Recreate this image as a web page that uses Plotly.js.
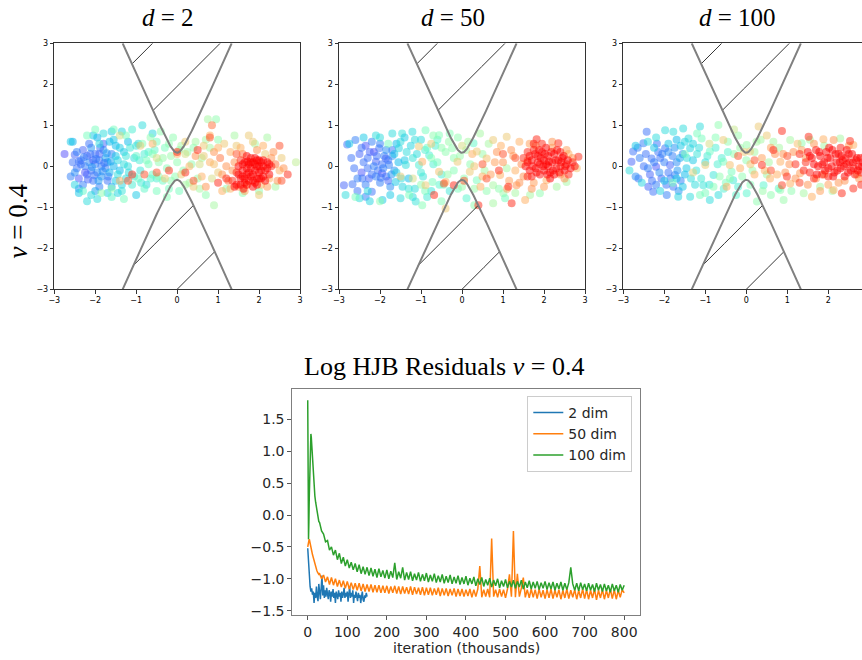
<!DOCTYPE html>
<html>
<head>
<meta charset="utf-8">
<script src="https://cdn.plot.ly/plotly-3.0.1.min.js"></script>
<style>html,body{margin:0;padding:0;background:#fff;} #chart{width:862px;height:660px;}</style>
</head>
<body>
<div id="chart"></div>
<script>
// ---------------- DATA ----------------
// scatter points per panel: [x, y, colour value 0..1]
const d2Points = [
[-2.75,0.3,0.05],[-2.55,0.6,0.2],[-2.5,0.28,0.08],[-2.45,-0.05,0.1],[-2.4,-0.3,0.06],[-2.35,0.15,0.1],[-2.3,-0.45,0.12],[-2.3,0.4,0.08],[-2.25,0.0,0.12],[-2.2,-0.2,0.1],[-2.2,0.25,0.08],[-2.15,0.1,0.13],[-2.1,-0.1,0.1],[-2.1,0.45,0.15],[-2.05,-0.35,0.1],[-2.0,0.05,0.12],[-2.0,0.3,0.1],[-1.95,-0.15,0.14],[-1.95,0.7,0.2],[-1.9,-0.5,0.12],[-1.9,0.15,0.1],[-1.85,0.0,0.12],[-1.85,-0.25,0.15],[-1.8,0.4,0.15],[-1.8,0.55,0.08],[-1.75,-0.05,0.12],[-1.75,0.2,0.18],[-1.7,-0.35,0.1],[-1.7,0.1,0.15],[-1.65,-0.15,0.2],[-1.6,0.3,0.12],[-1.6,-0.5,0.18],[-1.55,0.0,0.2],[-2.4,-0.55,0.15],[-2.6,-0.25,0.12],[-2.0,-0.6,0.18],[-2.15,0.55,0.1],[-1.9,0.3,0.08],[-2.25,-0.15,0.06],[-2.05,0.15,0.07],
[-2.35,0.05,0.1],[-2.28,0.22,0.12],[-2.18,-0.32,0.08],[-2.12,0.3,0.1],[-2.08,-0.02,0.15],[-2.02,-0.22,0.1],[-1.98,0.18,0.12],[-1.92,-0.35,0.16],[-1.88,0.45,0.1],[-1.82,-0.12,0.14],[-1.78,0.08,0.1],[-1.72,0.32,0.16],[-1.68,-0.25,0.12],[-1.62,0.12,0.18],[-2.45,0.35,0.12],[-2.4,0.12,0.1],[-2.5,-0.15,0.14],[-2.55,0.1,0.1],
[-2.6,0.6,0.25],[-2.4,-0.65,0.25],[-2.2,-0.85,0.3],[-2.05,0.75,0.25],[-1.95,-0.8,0.3],[-1.8,0.8,0.3],[-1.7,-0.65,0.28],[-1.6,0.85,0.25],[-1.5,-0.35,0.25],[-1.5,0.5,0.22],[-1.45,0.15,0.28],[-1.4,-0.1,0.22],[-1.35,0.85,0.28],[-1.35,-0.6,0.32],[-1.3,0.35,0.25],[-1.25,-0.3,0.3],[-1.2,0.6,0.22],[-1.2,0.0,0.3],[-1.1,0.9,0.35],[-1.1,-0.45,0.35],[-1.05,0.2,0.3],[-1.0,-0.7,0.25],[-0.95,0.55,0.3],[-0.9,-0.1,0.32],[-0.85,1.0,0.3],[-0.8,0.3,0.35],[-0.75,-0.45,0.3],[-0.6,0.8,0.28],[-0.5,-0.3,0.35],[-1.6,-0.75,0.4],[-2.3,-0.6,0.4],[-2.0,0.9,0.45],[-1.3,-0.8,0.45],
[-1.5,0.25,0.25],[-1.45,-0.2,0.3],[-1.4,0.45,0.26],[-1.35,-0.45,0.28],[-1.3,0.05,0.3],[-1.25,0.25,0.32],[-1.18,-0.15,0.3],[-1.15,0.45,0.33],[-1.05,-0.25,0.34],[-1.0,0.5,0.32],[-0.92,0.15,0.35],[-0.88,-0.4,0.34],[-0.7,0.35,0.38],[-0.65,-0.3,0.38],[-1.55,0.65,0.25],[-1.45,-0.65,0.28],[-1.65,0.6,0.22],[-2.1,-0.7,0.3],[-2.5,-0.45,0.28],[-1.9,0.55,0.3],
[-1.55,0.9,0.45],[-1.25,0.75,0.45],[-1.0,0.25,0.4],[-0.95,-0.3,0.42],[-0.85,0.55,0.48],[-0.8,-0.55,0.4],[-0.7,0.05,0.45],[-0.65,0.7,0.5],[-0.6,-0.2,0.42],[-0.55,0.4,0.4],[-0.5,-0.6,0.45],[-0.45,0.1,0.5],[-0.4,0.85,0.5],[-0.35,-0.35,0.42],[-0.3,0.45,0.45],[-0.25,-0.05,0.48],[-0.2,-0.55,0.45],[-0.15,0.25,0.52],[-0.1,0.7,0.5],[-0.05,-0.25,0.5],[0.0,0.1,0.5],[0.05,-0.6,0.45],[0.1,0.5,0.55],[0.15,-0.1,0.5],[0.25,0.35,0.52],[0.3,-0.4,0.55],[0.35,0.05,0.5],[0.45,0.6,0.55],[0.5,-0.3,0.52],[0.6,0.2,0.55],[0.7,-0.7,0.5],[0.8,0.45,0.55],[0.9,-0.95,0.55],[1.0,0.65,0.5],[1.2,-0.55,0.5],[1.4,0.75,0.55],[1.6,-0.65,0.5],[1.9,0.55,0.55],[2.0,-0.6,0.5],[0.95,1.15,0.5],[0.75,1.15,0.55],[-0.25,-0.75,0.48],[2.2,0.7,0.55],[2.4,-0.5,0.55],[-1.85,-0.65,0.5],[-1.6,-0.55,0.5],[-2.2,0.75,0.45],[2.9,0.1,0.6],
[-0.75,0.15,0.45],[-0.6,0.3,0.48],[-0.45,-0.25,0.5],[-0.35,0.2,0.52],[-0.15,-0.35,0.5],[0.05,0.4,0.52],[0.2,-0.45,0.55],[0.4,0.45,0.5],[0.55,-0.55,0.55],[0.7,0.65,0.55],[-0.5,0.6,0.45],[-0.2,0.55,0.5],
[-1.4,-0.35,0.75],[-1.4,0.75,0.65],[-0.9,0.5,0.7],[-0.5,0.2,0.65],[-0.3,-0.3,0.7],[0.0,0.3,0.75],[0.1,-0.2,0.7],[0.2,0.3,0.65],[0.3,0.0,0.75],[0.4,-0.5,0.7],[0.45,0.25,0.8],[0.55,0.05,0.65],[0.6,-0.25,0.75],[0.65,0.5,0.7],[0.7,-0.5,0.8],[0.8,0.1,0.75],[0.85,-0.3,0.65],[0.9,0.35,0.8],[1.0,-0.15,0.7],[1.05,0.2,0.85],[1.1,-0.6,0.75],[1.15,0.55,0.7],[1.2,0.0,0.8],[1.25,-0.35,0.85],[1.3,0.35,0.75],[1.35,-0.1,0.8],[1.45,0.5,0.7],[1.5,-0.5,0.8],[1.6,0.3,0.85],[1.7,-0.45,0.75],[1.85,0.6,0.7],[1.95,0.4,0.8],[2.05,-0.45,0.75],[2.15,0.3,0.7],[2.25,-0.3,0.75],[2.35,0.35,0.8],[2.4,0.05,0.85],[2.5,-0.1,0.75],[2.55,0.2,0.7],[2.45,-0.35,0.8],[2.0,-0.7,0.7],[1.75,0.75,0.7],[0.8,0.75,0.75],[0.2,0.6,0.7],[-0.6,0.55,0.75],
[1.0,0.45,0.75],[1.1,-0.2,0.8],[1.3,-0.55,0.75],[1.4,0.1,0.8],[1.55,0.45,0.75],[1.65,-0.6,0.78],[2.1,0.5,0.75],[2.2,-0.5,0.78],[2.3,0.2,0.8],[2.6,-0.05,0.8],[0.65,0.25,0.7],[0.9,0.05,0.72],
[1.35,-0.35,0.95],[1.4,-0.5,1.0],[1.45,-0.15,0.95],[1.5,0.0,1.0],[1.55,-0.3,1.0],[1.55,0.15,0.95],[1.6,-0.1,1.0],[1.65,-0.4,0.98],[1.65,0.1,1.0],[1.7,-0.2,1.0],[1.75,0.05,1.0],[1.75,-0.35,1.0],[1.8,-0.05,1.0],[1.8,0.2,0.97],[1.85,-0.2,1.0],[1.85,0.1,1.0],[1.9,-0.1,1.0],[1.9,0.05,1.0],[1.95,-0.3,1.0],[1.95,0.15,1.0],[2.0,0.0,1.0],[2.0,-0.15,1.0],[2.05,0.1,1.0],[2.1,-0.25,1.0],[2.1,0.0,1.0],[2.15,-0.1,0.98],[2.2,0.1,1.0],[2.25,-0.2,1.0],[2.3,0.0,0.95],[1.7,0.25,1.0],[1.6,-0.25,1.0],[1.9,-0.4,1.0],[1.45,-0.45,1.0],[2.05,-0.3,1.0],[1.8,-0.25,1.0],[1.95,0.0,1.0],[1.7,-0.05,1.0],
[1.5,-0.2,1.0],[1.55,-0.45,1.0],[1.6,0.05,1.0],[1.65,-0.3,1.0],[1.7,-0.45,1.0],[1.75,-0.15,1.0],[1.8,0.1,1.0],[1.85,-0.35,1.0],[1.9,0.2,1.0],[1.95,-0.45,1.0],[2.0,0.15,1.0],[2.05,-0.1,1.0],[2.1,0.15,1.0],[2.15,-0.35,1.0],[2.2,-0.05,1.0],[2.25,0.05,1.0],[1.62,-0.55,1.0],[1.85,-0.5,1.0],[2.0,-0.3,1.0],[1.72,0.12,1.0],
[-1.1,-0.2,0.95],[-0.8,-0.2,0.9],[-0.5,-0.15,0.9],[-0.2,-0.1,0.95],[0.2,-0.15,0.95],[0.0,0.35,0.95],[0.5,0.4,0.95],[0.8,0.7,0.9],[0.85,1.0,0.85],[0.4,-0.35,0.9],[1.0,-0.4,0.95],[1.2,-0.3,0.95],[2.5,0.5,0.9],[2.7,-0.2,0.95],[2.55,-0.35,0.9],[1.45,0.3,0.9],[-1.2,-0.35,0.9]
];

const d50Points = [
[-2.88,-0.46,0.08],[-2.8,0.53,0.1],[-2.67,-0.44,0.1],[-2.6,0.64,0.12],[-2.63,-0.05,0.1],[-2.5,0.3,0.08],[-2.45,-0.15,0.06],[-2.43,-0.3,0.1],[-2.35,-0.74,0.12],[-2.3,0.2,0.1],[-2.27,-0.3,0.08],[-2.2,0.6,0.12],[-2.2,-0.62,0.1],[-2.15,0.35,0.05],[-2.1,0.11,0.08],[-2.05,-0.1,0.1],[-2.02,0.44,0.1],[-2.0,-0.4,0.12],[-1.95,-0.17,0.06],[-1.9,0.25,0.12],[-1.86,0.19,0.08],[-1.85,-0.25,0.1],[-1.78,0.03,0.12],[-1.75,-0.5,0.14],[-1.7,0.4,0.1],[-1.65,-0.1,0.15],[-2.35,0.5,0.06],[-2.55,-0.6,0.1],[-1.95,0.05,0.1],[-2.1,-0.25,0.12],[-2.3,-0.05,0.1],[-1.8,-0.35,0.08],
[-2.4,0.1,0.1],[-2.35,-0.45,0.12],[-2.25,0.35,0.08],[-2.2,-0.2,0.1],[-2.15,0.0,0.12],[-2.08,0.25,0.1],[-2.0,0.55,0.12],[-1.98,-0.28,0.1],[-1.92,-0.05,0.12],[-1.85,0.4,0.14],[-1.8,0.15,0.1],[-1.72,-0.2,0.15],[-1.7,0.25,0.14],[-2.7,0.2,0.1],[-2.55,-0.3,0.12],[-2.45,0.45,0.1],
[-2.84,-0.7,0.3],[-2.75,0.55,0.25],[-2.5,-0.78,0.3],[-2.4,0.7,0.25],[-2.25,-0.85,0.28],[-2.1,0.75,0.3],[-1.94,-0.82,0.25],[-1.7,0.8,0.3],[-1.62,-0.38,0.25],[-1.6,0.55,0.22],[-1.54,0.44,0.28],[-1.5,-0.78,0.3],[-1.46,0.8,0.32],[-1.4,0.15,0.25],[-1.37,0.03,0.3],[-1.3,-0.3,0.22],[-1.25,0.5,0.28],[-1.21,0.84,0.3],[-1.15,-0.55,0.3],[-1.13,-0.86,0.32],[-1.1,0.3,0.3],[-1.05,0.03,0.35],[-1.0,0.65,0.3],[-0.95,-0.25,0.32],[-0.8,0.27,0.35],[-0.75,-0.6,0.32],[-0.65,0.5,0.35],[-0.5,-0.2,0.35],[-1.75,-0.7,0.25],[-1.55,0.1,0.22],[-1.45,-0.5,0.28],[-0.3,-0.6,0.33],[0.11,-0.78,0.38],[0.28,0.56,0.4],
[-1.65,0.3,0.25],[-1.6,-0.15,0.28],[-1.5,0.6,0.3],[-1.48,-0.3,0.3],[-1.35,0.35,0.3],[-1.3,-0.55,0.32],[-1.2,0.2,0.32],[-1.15,0.65,0.3],[-1.0,-0.15,0.34],[-0.9,0.4,0.36],[-0.85,-0.75,0.34],[-0.7,0.05,0.36],[-0.6,0.65,0.38],[-0.55,-0.45,0.38],[-2.0,0.7,0.3],[-2.3,-0.6,0.3],[-1.2,-0.75,0.3],[-1.4,0.7,0.26],
[-2.6,-0.75,0.45],[-2.0,-0.85,0.5],[-1.8,0.55,0.45],[-1.29,-0.7,0.45],[-0.97,-0.95,0.48],[-0.89,0.88,0.45],[-0.85,0.45,0.42],[-0.72,-0.38,0.45],[-0.7,0.75,0.5],[-0.6,0.1,0.45],[-0.56,0.76,0.48],[-0.45,-0.45,0.42],[-0.4,0.35,0.5],[-0.32,0.6,0.52],[-0.24,0.44,0.5],[-0.2,-0.1,0.48],[-0.1,-0.55,0.45],[-0.05,0.25,0.52],[0.05,-0.3,0.5],[0.15,0.6,0.55],[0.2,0.05,0.5],[0.36,-0.34,0.45],[0.44,0.8,0.55],[0.5,0.3,0.52],[0.6,-0.6,0.5],[0.76,-0.46,0.55],[0.76,-0.9,0.55],[1.01,-0.66,0.52],[1.05,-0.78,0.45],[1.09,-0.05,0.55],[1.66,-0.7,0.55],[1.9,-0.66,0.5],[2.31,-0.5,0.55],[2.55,-0.38,0.55],[-0.1,0.7,0.5],[-1.0,-0.45,0.5],[0.3,-0.95,0.5],[-0.5,-0.85,0.48],
[-0.9,-0.6,0.45],[-0.75,0.2,0.48],[-0.5,0.45,0.5],[-0.35,-0.2,0.52],[-0.2,0.2,0.5],[0.0,-0.5,0.52],[0.1,0.4,0.55],[0.3,-0.55,0.52],[0.55,-0.1,0.55],[0.65,0.55,0.55],[0.9,-0.55,0.5],[1.3,-0.65,0.55],[-0.3,0.8,0.48],
[-1.05,0.48,0.7],[-0.97,0.11,0.75],[-0.89,-0.46,0.7],[-0.56,-0.13,0.72],[-0.4,-0.38,0.75],[-0.4,-1.03,0.7],[-0.11,0.11,0.7],[0.0,0.5,0.65],[0.19,-0.13,0.7],[0.25,0.3,0.75],[0.36,0.36,0.7],[0.45,-0.5,0.75],[0.6,0.19,0.72],[0.7,-0.2,0.78],[0.76,0.64,0.7],[0.85,0.35,0.8],[0.93,-0.21,0.75],[1.0,0.1,0.8],[1.09,0.72,0.7],[1.15,-0.35,0.78],[1.2,0.4,0.8],[1.3,-0.1,0.75],[1.33,-0.46,0.8],[1.4,0.6,0.75],[1.5,-0.25,0.8],[1.54,-0.82,0.75],[1.6,0.15,0.85],[1.75,-0.4,0.78],[1.8,0.5,0.8],[2.06,-0.34,0.75],[2.2,0.45,0.8],[2.4,-0.2,0.8],[2.6,0.3,0.75],[2.8,-0.05,0.72],[2.7,0.2,0.8],[-1.2,-0.3,0.65],[-1.5,-0.25,0.7],[-0.75,0.55,0.7],
[0.3,0.0,0.72],[0.5,-0.25,0.75],[0.8,0.1,0.78],[0.95,0.5,0.75],[1.1,-0.55,0.78],[1.25,0.25,0.8],[1.4,-0.4,0.8],[1.45,0.05,0.82],[1.65,0.55,0.78],[1.7,-0.55,0.8],[2.0,-0.5,0.78],[2.55,0.4,0.78],[2.5,-0.3,0.8],[2.2,0.6,0.8],
[1.5,0.2,0.95],[1.55,0.0,1.0],[1.6,0.35,0.95],[1.65,-0.1,1.0],[1.7,0.15,1.0],[1.75,0.4,0.97],[1.8,-0.05,1.0],[1.85,0.25,1.0],[1.9,0.05,1.0],[1.9,-0.2,0.98],[1.95,0.35,1.0],[2.0,0.15,1.0],[2.0,-0.1,1.0],[2.05,0.45,1.0],[2.1,0.0,1.0],[2.1,0.25,1.0],[2.15,-0.15,1.0],[2.2,0.1,1.0],[2.25,0.3,1.0],[2.3,-0.05,1.0],[2.35,0.15,1.0],[2.4,0.0,0.98],[2.45,0.2,1.0],[2.5,-0.1,1.0],[2.55,0.05,0.97],[2.6,-0.2,0.95],[2.7,0.1,0.95],[1.7,-0.25,0.98],[1.95,0.55,0.95],[2.25,-0.2,1.0],[1.85,0.1,1.0],[2.05,0.05,1.0],[1.6,-0.25,0.95],[2.4,0.35,0.97],
[1.6,0.1,1.0],[1.65,0.25,1.0],[1.72,0.0,1.0],[1.78,0.3,1.0],[1.82,-0.15,1.0],[1.88,0.4,1.0],[1.92,0.2,1.0],[1.98,0.0,1.0],[2.02,0.3,1.0],[2.08,-0.2,1.0],[2.12,0.12,1.0],[2.18,0.35,1.0],[2.22,-0.1,1.0],[2.28,0.15,1.0],[2.32,0.4,1.0],[2.38,-0.15,1.0],[2.42,0.1,1.0],[2.48,0.25,1.0],[2.52,0.0,1.0],[2.58,0.15,1.0],[2.65,-0.05,1.0],[2.75,0.0,0.98],[1.75,0.55,0.98],[2.15,-0.3,1.0],
[1.82,0.66,0.95],[2.35,0.56,0.95],[1.21,-0.9,0.95],[1.13,-0.5,0.95],[2.84,0.23,0.95],[-0.68,-0.7,0.95],[-0.44,-0.42,0.9],[-0.2,-0.46,0.95],[0.05,-0.35,0.9],[0.4,-0.95,0.95],[0.6,-0.3,0.9],[0.9,-0.1,0.95],[1.0,0.3,0.9],[0.5,0.05,0.9],[1.3,0.2,0.9]
];

const d100Points = [
[-2.8,0.11,0.08],[-2.76,0.36,0.1],[-2.63,-0.3,0.1],[-2.51,0.56,0.12],[-2.43,0.84,0.1],[-2.39,-0.5,0.08],[-2.31,0.19,0.1],[-2.27,-0.62,0.1],[-2.2,-0.01,0.06],[-2.15,0.35,0.1],[-2.07,-0.3,0.08],[-2.0,0.1,0.12],[-1.98,0.44,0.1],[-1.94,-0.7,0.12],[-1.9,-0.15,0.1],[-1.86,0.03,0.08],[-1.8,0.25,0.12],[-1.78,-0.5,0.1],[-1.74,-0.21,0.12],[-1.7,0.1,0.14],[-1.6,-0.35,0.12],[-1.55,0.3,0.14],[-2.5,0.0,0.1],[-2.35,-0.2,0.08],[-2.1,0.2,0.1],[-2.6,0.2,0.12],[-1.65,-0.6,0.15],[-2.2,-0.45,0.12],
[-2.45,0.3,0.1],[-2.4,-0.05,0.12],[-2.3,-0.35,0.1],[-2.25,0.1,0.12],[-2.18,0.55,0.1],[-2.12,-0.15,0.14],[-2.05,0.3,0.12],[-1.95,-0.45,0.1],[-1.9,0.35,0.14],[-1.85,-0.3,0.12],[-1.75,0.45,0.15],[-1.68,-0.1,0.16],[-1.62,0.2,0.18],[-2.65,0.45,0.12],[-2.7,-0.25,0.14],
[-2.85,-0.1,0.3],[-2.7,0.5,0.25],[-2.55,-0.4,0.28],[-2.4,0.6,0.3],[-2.25,0.45,0.25],[-2.1,-0.6,0.28],[-1.98,0.88,0.3],[-1.9,0.55,0.25],[-1.78,0.84,0.3],[-1.66,-0.74,0.28],[-1.6,0.5,0.25],[-1.54,0.92,0.3],[-1.5,-0.2,0.22],[-1.46,-0.05,0.25],[-1.41,0.68,0.3],[-1.37,0.44,0.28],[-1.37,-0.74,0.3],[-1.3,0.15,0.25],[-1.25,-0.45,0.3],[-1.2,0.3,0.32],[-1.13,0.97,0.3],[-1.05,-0.46,0.32],[-1.0,0.1,0.3],[-0.89,-0.82,0.3],[-0.8,-0.21,0.32],[-0.75,0.45,0.35],[-0.68,-0.7,0.3],[-0.6,0.2,0.35],[-0.32,-0.34,0.33],[-0.2,-0.5,0.35],[0.01,-0.66,0.38],[0.42,-0.46,0.38],[0.79,-0.54,0.4],[-1.7,0.65,0.22],[-2.0,-0.35,0.25],
[-1.55,-0.5,0.25],[-1.5,0.6,0.28],[-1.45,0.2,0.3],[-1.35,-0.3,0.3],[-1.3,0.55,0.28],[-1.22,-0.1,0.32],[-1.15,0.45,0.3],[-1.1,-0.3,0.34],[-0.95,0.25,0.34],[-0.9,-0.45,0.32],[-0.7,0.05,0.36],[-0.55,-0.55,0.36],[-0.45,0.35,0.38],[-0.25,-0.7,0.38],[-1.7,-0.3,0.25],[-2.2,0.7,0.3],
[-1.09,0.68,0.45],[-1.13,-0.7,0.45],[-0.89,0.36,0.42],[-0.68,1.01,0.5],[-0.56,0.11,0.45],[-0.5,-0.4,0.45],[-0.45,0.6,0.5],[-0.36,-0.13,0.45],[-0.3,0.3,0.5],[-0.2,0.75,0.52],[-0.1,-0.25,0.5],[0.0,0.15,0.5],[0.01,0.52,0.52],[0.1,-0.45,0.48],[0.2,0.35,0.55],[0.26,-0.86,0.5],[0.35,0.65,0.55],[0.5,-0.2,0.52],[0.66,0.6,0.55],[0.83,-0.58,0.5],[0.91,-0.82,0.52],[1.07,0.64,0.55],[1.35,0.56,0.5],[1.4,-0.66,0.55],[2.29,0.68,0.55],[1.8,-0.5,0.55],[-1.5,0.3,0.45],[-1.8,-0.4,0.45],[-0.8,-0.5,0.48],[0.6,-0.7,0.5],
[-1.2,0.8,0.45],[-1.0,-0.65,0.45],[-0.75,0.7,0.48],[-0.65,-0.25,0.5],[-0.4,-0.3,0.5],[-0.15,0.45,0.52],[0.15,-0.1,0.52],[0.25,0.6,0.55],[0.4,-0.6,0.52],[0.55,0.1,0.55],[0.8,0.45,0.55],[1.1,-0.6,0.5],[1.55,0.65,0.55],[1.9,0.5,0.55],[2.1,-0.6,0.55],
[-1.0,0.03,0.7],[-0.56,0.64,0.7],[-0.48,-0.5,0.75],[-0.4,0.03,0.72],[-0.15,-0.05,0.75],[0.09,0.36,0.7],[0.2,-0.2,0.75],[0.3,0.97,0.7],[0.38,0.2,0.78],[0.58,-0.3,0.75],[0.7,0.3,0.8],[0.83,0.11,0.75],[0.95,-0.15,0.8],[1.07,-0.42,0.75],[1.15,0.35,0.8],[1.31,-0.17,0.78],[1.45,0.2,0.8],[1.6,-0.74,0.75],[1.7,-0.3,0.8],[1.88,0.66,0.75],[2.0,-0.45,0.78],[2.13,0.64,0.8],[2.13,-0.58,0.75],[2.4,-0.35,0.8],[2.61,0.52,0.75],[2.7,-0.2,0.8],[-1.3,-0.15,0.68],[-0.9,0.55,0.65],[-0.3,0.9,0.62],[0.5,0.75,0.7],[1.25,0.55,0.72],[1.9,-0.2,0.8],
[-0.05,0.35,0.7],[0.1,0.05,0.72],[0.45,-0.1,0.75],[0.6,0.45,0.78],[0.75,-0.2,0.75],[0.9,0.3,0.8],[1.05,0.05,0.8],[1.2,-0.3,0.8],[1.35,0.4,0.78],[1.5,-0.45,0.8],[1.65,0.55,0.8],[2.25,-0.4,0.8],[2.5,0.5,0.78],[2.75,-0.3,0.8],[1.8,-0.6,0.78],
[1.45,0.1,0.95],[1.5,0.35,1.0],[1.55,-0.15,0.97],[1.6,0.2,1.0],[1.7,0.4,0.98],[1.75,0.0,1.0],[1.8,0.25,1.0],[1.85,-0.2,0.97],[1.9,0.1,1.0],[1.95,0.35,1.0],[2.0,-0.05,1.0],[2.05,0.2,1.0],[2.1,0.4,1.0],[2.15,-0.15,1.0],[2.2,0.1,1.0],[2.25,0.3,1.0],[2.3,-0.05,1.0],[2.35,0.15,1.0],[2.4,-0.25,1.0],[2.45,0.05,1.0],[2.5,0.3,1.0],[2.55,-0.1,1.0],[2.6,0.1,1.0],[2.65,-0.2,0.98],[2.7,0.2,1.0],[2.75,0.0,1.0],[2.8,-0.15,0.97],[2.85,0.1,1.0],[2.3,0.45,0.97],[2.0,-0.25,0.98],[2.45,0.4,1.0],[1.65,-0.3,0.95],[2.9,0.25,0.95],
[1.55,0.25,1.0],[1.65,0.05,1.0],[1.72,-0.2,1.0],[1.78,0.35,1.0],[1.85,0.05,1.0],[1.92,-0.1,1.0],[1.98,0.2,1.0],[2.02,0.45,1.0],[2.08,0.0,1.0],[2.12,-0.25,1.0],[2.18,0.3,1.0],[2.22,-0.1,1.0],[2.28,0.1,1.0],[2.32,0.25,1.0],[2.38,0.0,1.0],[2.42,0.2,1.0],[2.48,-0.15,1.0],[2.52,0.1,1.0],[2.58,0.3,1.0],[2.62,-0.05,1.0],[2.68,0.15,1.0],[2.72,-0.1,1.0],[2.78,0.2,1.0],[2.82,0.0,1.0],[1.4,-0.1,0.97],[1.3,0.3,0.95],
[0.87,0.86,0.95],[1.52,0.72,0.95],[2.53,0.62,0.95],[0.66,0.4,0.95],[0.38,0.03,0.95],[0.99,-0.25,0.95],[0.87,-0.46,0.92],[2.33,-0.66,0.95],[2.61,-0.54,0.95],[1.2,0.05,0.95],[1.0,0.25,0.9],[0.6,-0.1,0.9],[2.8,-0.45,0.95],[1.3,-0.4,0.92],[0.2,0.15,0.9],[-0.2,0.25,0.9]
];

const panelTitles = ["<i>d</i> = 2", "<i>d</i> = 50", "<i>d</i> = 100"];

// obstacle boundary |y| = sqrt(a^2 + b^2 x^2), hatch lines y = x + c
const obstacleA = 0.33, obstacleB = 2.24;
const hatchOffsets = [3.6, 1.95, 0.3, -1.35, -3.0];

// residual curves (iteration in thousands)
const blueEarlyX = [0,1,2,3,4];
const blueEarlyY = [-0.52,-0.62,-0.8,-0.95,-1.05];
const blueStart = 6, blueStep = 2;
const blueY = [-1.12,-1.2,-1.15,-1.25,-1.2,-1.38,-1.22,-1.3,-1.12,-1.28,-1.35,-1.08,-1.24,-1.32,-1.14,-0.95,-1.26,-1.1,-1.3,-1.18,-1.28,-1.14,-1.24,-1.32,-1.18,-1.22,-1.36,-1.2,-1.28,-1.16,-1.3,-1.22,-1.38,-1.2,-1.26,-1.32,-1.18,-1.28,-1.22,-1.36,-1.2,-1.3,-1.24,-1.14,-1.3,-1.22,-1.28,-1.2,-1.36,-1.25,-1.12,-1.3,-1.22,-1.28,-1.18,-1.38,-1.25,-1.3,-1.2,-1.28,-1.35,-1.22,-1.3,-1.25,-1.38,-1.28,-1.2,-1.33,-1.36,-1.26,-1.3,-1.22,-1.28];

const orangeEarlyX = [0,1,2,3,4,5,6,8,10,12,15,18,20,23,25,28];
const orangeEarlyY = [-0.5,-0.44,-0.46,-0.4,-0.38,-0.42,-0.45,-0.5,-0.56,-0.62,-0.7,-0.78,-0.82,-0.87,-0.9,-0.93];
const orangeStart = 30, orangeStep = 5;
const orangeY = [-0.92,-1.00,-0.94,-1.05,-0.97,-1.09,-0.98,-1.10,-1.00,-1.12,-1.02,-1.13,-1.03,-1.15,-1.04,-1.16,-1.06,-1.17,-1.07,-1.18,-1.07,-1.19,-1.08,-1.20,-1.09,-1.20,-1.09,-1.21,-1.10,-1.21,-1.10,-1.22,-1.11,-1.22,-1.11,-1.23,-1.12,-1.22,-1.11,-1.23,-1.12,-1.24,-1.12,-1.23,-1.13,-1.24,-1.12,-1.25,-1.13,-1.24,-1.14,-1.25,-1.13,-1.26,-1.14,-1.25,-1.14,-1.26,-1.15,-1.25,-1.14,-1.27,-1.15,-1.26,-1.15,-1.27,-1.16,-1.26,-1.15,-1.28,-1.16,-1.27,-1.16,-1.28,-1.17,-1.27,-1.16,-1.29,-1.17,-1.28,-1.16,-0.80,-1.29,-1.17,-1.28,-1.16,-1.29,-0.37,-1.28,-1.17,-1.29,-1.16,-1.28,-1.17,-1.30,-1.16,-0.93,-1.28,-0.25,-1.29,-0.92,-1.28,-1.15,-0.98,-1.29,-1.17,-1.30,-1.16,-1.29,-1.17,-1.31,-1.16,-1.29,-1.18,-1.31,-1.17,-1.30,-1.16,-1.31,-1.18,-1.29,-1.17,-1.32,-1.18,-1.30,-1.16,-1.31,-1.18,-1.29,-1.17,-1.32,-1.18,-1.30,-1.16,-1.31,-1.17,-1.32,-1.18,-1.30,-1.16,-1.33,-1.18,-1.30,-1.17,-1.32,-1.18,-1.30,-1.16,-1.31,-1.17,-1.32,-1.18,-1.29,-1.17,-1.22];

const greenEarlyX = [0,1,2,3,4,5,6,7,8,9,10,12,14,16,18,20,22,24,26,28];
const greenEarlyY = [1.8,0.9,-0.38,-0.1,0.3,0.7,1.0,1.2,1.27,1.22,1.1,0.85,0.62,0.45,0.3,0.2,0.12,0.02,-0.05,-0.1];
const greenStart = 30, greenStep = 5;
const greenY = [-0.12,-0.25,-0.30,-0.42,-0.40,-0.55,-0.50,-0.63,-0.55,-0.70,-0.60,-0.76,-0.66,-0.80,-0.70,-0.83,-0.74,-0.86,-0.76,-0.89,-0.78,-0.92,-0.81,-0.93,-0.82,-0.95,-0.83,-0.96,-0.85,-0.98,-0.84,-0.97,-0.87,-0.99,-0.86,-1.00,-0.88,-0.98,-0.75,-1.01,-0.89,-0.99,-0.82,-1.02,-0.90,-1.01,-0.89,-1.03,-0.92,-1.02,-0.90,-1.04,-0.93,-1.03,-0.91,-1.05,-0.94,-1.04,-0.92,-1.06,-0.95,-1.05,-0.93,-1.07,-0.96,-1.06,-0.94,-1.08,-0.97,-1.07,-0.95,-1.09,-0.98,-1.08,-0.96,-1.10,-0.99,-1.08,-0.97,-1.11,-1.00,-1.09,-0.98,-1.12,-1.01,-1.10,-0.99,-1.13,-1.02,-1.11,-1.00,-1.14,-1.03,-1.12,-1.01,-1.14,-1.04,-1.13,-1.02,-1.15,-1.04,-1.13,-1.02,-1.16,-1.05,-1.14,-1.03,-1.16,-1.05,-1.15,-1.04,-1.17,-1.06,-1.15,-1.04,-1.17,-1.06,-1.16,-1.05,-1.18,-1.07,-1.16,-1.05,-1.18,-1.07,-1.17,-1.06,-0.82,-1.08,-1.18,-1.07,-1.19,-1.06,-1.17,-1.08,-1.19,-1.07,-1.18,-1.09,-1.20,-1.07,-1.18,-1.09,-1.20,-1.08,-1.19,-1.10,-1.21,-1.08,-1.19,-1.10,-1.21,-1.09,-1.18,-1.10];

const seriesNames = ["2 dim", "50 dim", "100 dim"];
const seriesColors = ["#1f77b4", "#ff7f0e", "#2ca02c"];

// ---------------- BUILD ----------------
// matplotlib "rainbow" colormap
const rainbow = [];
for (let i = 0; i <= 20; i++) {
  const t = i / 20;
  const r = Math.min(1, Math.abs(2 * t - 0.5));
  const g = Math.max(0, Math.sin(Math.PI * t));
  const b = Math.max(0, Math.cos(Math.PI * t / 2));
  rainbow.push([t, `rgb(${Math.round(r*255)},${Math.round(g*255)},${Math.round(b*255)})`]);
}

const traces = [];
const panels = [d2Points, d50Points, d100Points];
const axIds = [["x","y"],["x2","y2"],["x3","y3"]];

function boundary(sign) {
  const xs = [], ys = [];
  const xmax = Math.sqrt((9 - obstacleA*obstacleA) / (obstacleB*obstacleB));
  for (let i = 0; i <= 200; i++) {
    const x = -xmax + 2 * xmax * i / 200;
    xs.push(x); ys.push(sign * Math.sqrt(obstacleA*obstacleA + obstacleB*obstacleB*x*x));
  }
  return [xs, ys];
}
function hatchLine(c) {
  const xs = [], ys = [];
  for (let i = 0; i <= 1200; i++) {
    const x = -3 + 6 * i / 1200, y = x + c;
    const inside = Math.abs(y) <= 3 && y*y >= obstacleA*obstacleA + obstacleB*obstacleB*x*x;
    xs.push(x); ys.push(inside ? y : null);
  }
  return [xs, ys];
}

panels.forEach((pts, k) => {
  const [xa, ya] = axIds[k];
  traces.push({
    type: "scatter", mode: "markers", xaxis: xa, yaxis: ya, showlegend: false, hoverinfo: "skip",
    x: pts.map(p => p[0]), y: pts.map(p => p[1]),
    marker: { size: 8, color: pts.map(p => p[2]), colorscale: rainbow, cmin: -0.05, cmax: 1, opacity: 0.5, line: { width: 0 } }
  });
  hatchOffsets.forEach(c => {
    const [hx, hy] = hatchLine(c);
    traces.push({ type: "scatter", mode: "lines", xaxis: xa, yaxis: ya, showlegend: false, hoverinfo: "skip",
      x: hx, y: hy, connectgaps: false, line: { color: "#000", width: 0.8 } });
  });
  [1, -1].forEach(s => {
    const [bx, by] = boundary(s);
    traces.push({ type: "scatter", mode: "lines", xaxis: xa, yaxis: ya, showlegend: false, hoverinfo: "skip",
      x: bx, y: by, line: { color: "#808080", width: 2 } });
  });
});

function series(ex, ey, start, step, vals) {
  return [ex.concat(vals.map((v, i) => start + i * step)), ey.concat(vals)];
}
const lineData = [
  series(blueEarlyX, blueEarlyY, blueStart, blueStep, blueY),
  series(orangeEarlyX, orangeEarlyY, orangeStart, orangeStep, orangeY),
  series(greenEarlyX, greenEarlyY, greenStart, greenStep, greenY)
];
lineData.forEach((d, i) => {
  traces.push({ type: "scatter", mode: "lines", xaxis: "x4", yaxis: "y4", name: seriesNames[i],
    x: d[0], y: d[1], line: { color: seriesColors[i], width: 1.5 } });
});

// ---------------- LAYOUT ----------------
const W = 862, H = 660;
const px = v => v / W, py = v => 1 - v / H;
const topY = [py(289.3), py(43.3)];
const topAxis = (dom, range, mirror) => ({
  domain: dom, range: range, showgrid: false, zeroline: false, showline: true, mirror: mirror,
  linecolor: "#333", linewidth: 1, ticks: "outside", ticklen: 3.5, tickwidth: 0.8, tickcolor: "#000",
  tickvals: [-3,-2,-1,0,1,2,3], tickfont: { family: "DejaVu Sans", size: 8, color: "#000" }
});
const serif = "Liberation Serif, Times New Roman, serif";
const titleX = [168, 453, 737];

const annotations = panelTitles.map((t, i) => ({
  text: t, x: px(titleX[i]), y: py(17), xref: "paper", yref: "paper", xanchor: "center", yanchor: "middle",
  showarrow: false, font: { family: serif, size: 25, color: "#000" }
}));
annotations.push(
  { text: "<i>ν</i> = 0.4", x: px(17.5), y: py(221), xref: "paper", yref: "paper", showarrow: false,
    xanchor: "center", yanchor: "middle", textangle: -90, font: { family: serif, size: 27, color: "#000" } },
  { text: "Log HJB Residuals <i>ν</i> = 0.4", x: px(444), y: py(366), xref: "paper", yref: "paper",
    xanchor: "center", yanchor: "middle", showarrow: false, font: { family: serif, size: 26, color: "#000" } },
  { text: "iteration (thousands)", x: px(466), y: py(648), xref: "paper", yref: "paper",
    xanchor: "center", yanchor: "middle", showarrow: false, font: { family: "DejaVu Sans", size: 14, color: "#262626" } }
);

const layout = {
  width: W, height: H, margin: { l: 0, r: 0, t: 0, b: 0 },
  paper_bgcolor: "#fff", plot_bgcolor: "#fff",
  xaxis: Object.assign(topAxis([px(54.3), px(300)], [-3, 3], true), { anchor: "y" }),
  yaxis: Object.assign(topAxis(topY, [-3, 3], true), { anchor: "x" }),
  xaxis2: Object.assign(topAxis([px(339), px(585)], [-3, 3], true), { anchor: "y2" }),
  yaxis2: Object.assign(topAxis(topY, [-3, 3], true), { anchor: "x2" }),
  xaxis3: Object.assign(topAxis([px(623.3), 1], [-3, -3 + 6 * (862 - 623.3) / 246], true), { anchor: "y3" }),
  yaxis3: Object.assign(topAxis(topY, [-3, 3], false), { anchor: "x3" }),
  xaxis4: {
    domain: [px(292.3), px(640)], range: [-39, 840], anchor: "y4", showgrid: false, zeroline: false,
    showline: true, mirror: true, linecolor: "#7f7f7f", linewidth: 1, ticks: "outside", ticklen: 4,
    tickcolor: "#555", dtick: 100, tick0: 0, tickfont: { family: "DejaVu Sans", size: 14, color: "#262626" }
  },
  yaxis4: {
    domain: [py(615.3), py(389.3)], range: [-1.572, 1.97], anchor: "x4", showgrid: false, zeroline: false,
    showline: true, mirror: true, linecolor: "#7f7f7f", linewidth: 1, ticks: "outside", ticklen: 4,
    tickcolor: "#555", dtick: 0.5, tick0: 0, tickformat: ".1f",
    tickfont: { family: "DejaVu Sans", size: 14, color: "#262626" }
  },
  showlegend: true,
  legend: {
    x: px(632.3), xanchor: "right", y: py(396), yanchor: "top",
    bgcolor: "rgba(255,255,255,0.9)", bordercolor: "#cccccc", borderwidth: 1,
    font: { family: "DejaVu Sans", size: 14, color: "#262626" }, itemwidth: 30
  },
  annotations: annotations
};

Plotly.newPlot("chart", traces, layout, { displayModeBar: false, staticPlot: true });
</script>
</body>
</html>
